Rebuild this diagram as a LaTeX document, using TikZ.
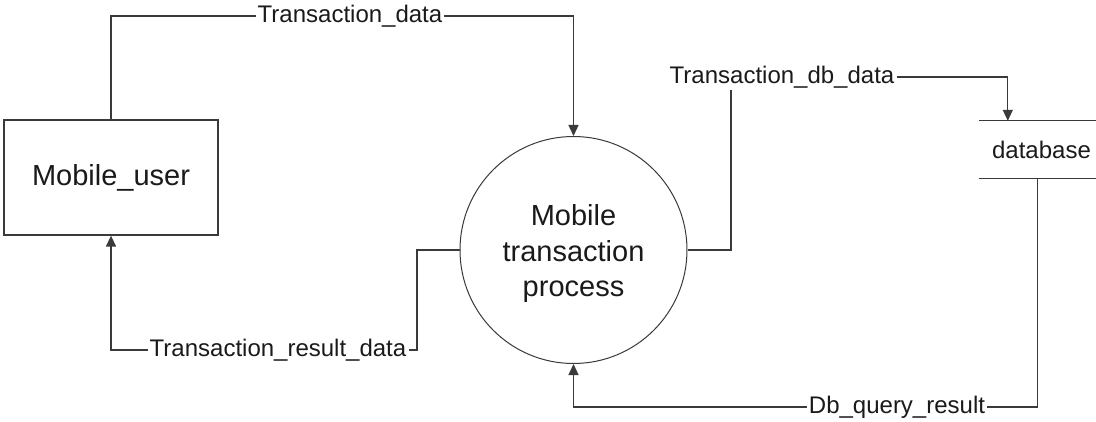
\documentclass[tikz,border=0pt]{standalone}
\usepackage{fontspec}
\setmainfont{Liberation Sans}
\usetikzlibrary{arrows.meta}
\definecolor{linec}{HTML}{3A3A3A}
\definecolor{textc}{HTML}{1A1A1A}
\begin{document}
\begin{tikzpicture}[x=1pt,y=-1pt,
  conn/.style={draw=linec,line width=1.3pt},
  arr/.style={conn,-{Triangle[length=11pt,width=10pt]}},
  lbl/.style={fill=white,inner sep=2pt,text=textc,font=\fontsize{24}{28}\selectfont},
  entity/.style={draw=linec,line width=1.3pt,minimum width=214pt,minimum height=115pt,inner sep=0pt,text=textc,font=\fontsize{29}{34}\selectfont},
  procnode/.style={circle,draw=linec,line width=1pt,minimum size=227pt,inner sep=0pt},
  proctext/.style={text=textc,align=center,inner sep=0pt,font=\fontsize{29}{35.5}\selectfont},
  store/.style={minimum width=117pt,minimum height=57pt,inner sep=0pt,text=textc,font=\fontsize{24}{28}\selectfont}]
\useasboundingbox[fill=white] (0,0) rectangle (1096,422);

\node[entity] (user) at (111,177.5) {Mobile\_user};
\node[procnode] (proc) at (573.5,250) {};
\node[proctext] (ptext) at ([yshift=-4pt]proc.center) {Mobile\\transaction\\process};
\node[store] (db) at (1037.5,149.5) {\hspace*{8pt}database};
\draw[conn] (db.north west) -- (db.north east);
\draw[conn] (db.south west) -- (db.south east);

\node[lbl] (td) at (350,16) {Transaction\_data};
\node[lbl] (tdb) at (782,77) {Transaction\_db\_data};
\node[lbl] (trd) at (278,350) {Transaction\_result\_data};
\node[lbl] (dq) at (897,407) {Db\_query\_result};

\coordinate (c1) at (731,250);
\coordinate (c2) at (417,250);

\draw[conn] (user.north) |- (td.west);
\draw[arr] (td.east) -| (proc.north);

\draw[conn] (proc.east) -- (c1) -- (c1 |- tdb.south);
\draw[arr] (tdb.east) -| ([xshift=29pt]db.north west);

\draw[conn] (db.south) |- (dq.east);
\draw[arr] (dq.west) -| (proc.south);

\draw[conn] (proc.west) -- (c2) |- (trd.east);
\draw[arr] (trd.west) -| (user.south);
\end{tikzpicture}
\end{document}
